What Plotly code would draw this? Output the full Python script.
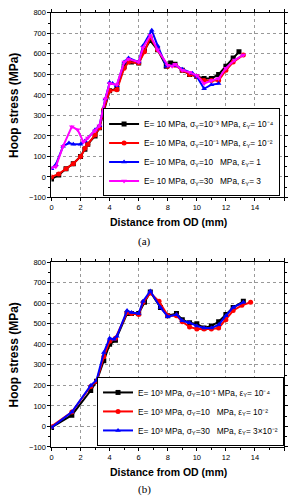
import plotly.graph_objects as go

# ---- data (a) ----
a_black_x = [0, 0.5, 1, 1.5, 2, 2.3, 2.5, 3, 3.3, 3.6, 4, 4.5, 5, 5.3, 5.5, 6, 6.4, 6.8, 7.3, 7.9, 8.2, 8.5, 9, 9.5, 10, 10.5, 11, 11.5, 12, 12.5, 12.9]
a_black_y = [-10, 10, 40, 65, 100, 135, 160, 200, 240, 320, 420, 430, 540, 565, 560, 555, 620, 665, 620, 540, 555, 550, 520, 500, 490, 480, 480, 500, 540, 580, 610]
a_red_x = [0, 0.5, 1, 1.5, 2, 2.3, 2.5, 3, 3.3, 3.6, 4, 4.5, 5, 5.3, 6, 6.4, 6.8, 7.3, 8, 8.5, 9, 9.5, 10, 10.5, 11, 11.5, 12, 12.5, 13.2]
a_red_y = [0, 15, 40, 65, 100, 140, 160, 205, 240, 330, 420, 425, 530, 560, 555, 610, 680, 620, 540, 545, 520, 500, 490, 470, 470, 470, 520, 560, 595]
a_blue_x = [0, 0.3, 0.8, 1.2, 1.5, 2, 2.3, 3, 3.3, 3.7, 4, 4.2, 4.5, 5, 5.3, 6, 6.3, 6.9, 7.3, 7.9, 8.5, 9, 9.7, 10, 10.5, 11, 11.5]
a_blue_y = [40, 60, 150, 165, 160, 160, 175, 230, 250, 380, 460, 455, 445, 560, 580, 560, 640, 715, 640, 540, 545, 525, 505, 490, 430, 450, 455]
a_mag_x = [0, 0.3, 0.8, 1.4, 1.8, 2.2, 2.5, 3, 3.3, 3.7, 4, 4.5, 5, 5.3, 6, 6.3, 6.8, 7.3, 8, 8.3, 8.5, 9, 9.5, 10, 10.5, 11, 11.5, 12, 12.6, 13.2]
a_mag_y = [45, 50, 150, 245, 230, 170, 190, 225, 250, 380, 455, 450, 560, 575, 560, 630, 690, 620, 545, 540, 550, 520, 510, 495, 455, 470, 480, 530, 570, 595]

# ---- data (b) ----
b_black_x = [0, 1.4, 2.7, 3.1, 3.6, 4, 4.4, 5.2, 5.5, 6, 6.4, 6.8, 7.5, 8, 8.6, 9, 9.5, 10, 10.5, 11, 11.5, 12, 12.5, 13.2]
b_black_y = [-5, 55, 175, 220, 320, 400, 420, 550, 550, 550, 605, 655, 580, 540, 550, 520, 505, 500, 480, 490, 510, 545, 580, 610]
b_red_x = [0, 1.4, 2.7, 3.1, 3.6, 4, 4.4, 5.2, 5.5, 6, 6.3, 6.8, 7.4, 8, 8.6, 9, 9.5, 10, 10.5, 11, 11.5, 12, 12.5, 13.1, 13.7]
b_red_y = [0, 70, 195, 220, 340, 415, 430, 555, 550, 545, 605, 650, 610, 540, 540, 510, 485, 475, 475, 475, 480, 520, 565, 590, 605]
b_blue_x = [0, 1.4, 2.7, 3.1, 3.6, 4, 4.3, 4.5, 5.2, 5.5, 6, 6.3, 6.8, 7.5, 8, 8.6, 9, 9.5, 10, 10.5, 11, 11.5, 12, 12.5, 13.2]
b_blue_y = [-5, 70, 200, 225, 360, 430, 425, 440, 565, 555, 550, 610, 660, 580, 535, 545, 515, 505, 490, 480, 480, 495, 540, 580, 605]

a_names = [
    "E= 10 MPa, σ<sub>Y</sub>=10⁻³ MPa, ε<sub>Y</sub>= 10⁻⁴",
    "E= 10 MPa, σ<sub>Y</sub>=10⁻¹ MPa, ε<sub>Y</sub>= 10⁻²",
    "E= 10 MPa, σ<sub>Y</sub>=10   MPa, ε<sub>Y</sub>= 1",
    "E= 10 MPa, σ<sub>Y</sub>=30   MPa, ε<sub>Y</sub>= 3",
]
b_names = [
    "E= 10³ MPa, σ<sub>Y</sub>=10⁻¹ MPa, ε<sub>Y</sub>= 10⁻⁴",
    "E= 10³ MPa, σ<sub>Y</sub>=10   MPa, ε<sub>Y</sub>= 10⁻²",
    "E= 10³ MPa, σ<sub>Y</sub>=30   MPa, ε<sub>Y</sub>= 3×10⁻²",
]
x_ticks = [0, 2, 4, 6, 8, 10, 12, 14, 16]
y_ticks = [-100, 0, 100, 200, 300, 400, 500, 600, 700, 800]

FONT = "Liberation Sans, Arial, sans-serif"
fig = go.Figure()

def add(x, y, name, color, sym, xa, ya, leg):
    fig.add_trace(go.Scatter(
        x=x, y=y, name=name, mode="lines+markers",
        line=dict(color=color, width=2),
        marker=dict(symbol=sym, size=5, color=color),
        xaxis=xa, yaxis=ya, legend=leg))

add(a_black_x, a_black_y, a_names[0], "#000000", "square", "x", "y", "legend")
add(a_red_x, a_red_y, a_names[1], "#ff0000", "circle", "x", "y", "legend")
add(a_blue_x, a_blue_y, a_names[2], "#0000ff", "triangle-up", "x", "y", "legend")
add(a_mag_x, a_mag_y, a_names[3], "#ff00ff", "triangle-down", "x", "y", "legend")
add(b_black_x, b_black_y, b_names[0], "#000000", "square", "x2", "y2", "legend2")
add(b_red_x, b_red_y, b_names[1], "#ff0000", "circle", "x2", "y2", "legend2")
add(b_blue_x, b_blue_y, b_names[2], "#0000ff", "triangle-up", "x2", "y2", "legend2")

xd = [50/288, 285/288]
top_dom = [1 - 197/503, 1 - 9/503]
bot_dom = [1 - 451/503, 1 - 263/503]

common = dict(showgrid=True, gridcolor="#999999", griddash="dot", gridwidth=0.8,
              showline=True, linecolor="black", linewidth=1, mirror="ticks",
              ticks="outside", ticklen=3, tickcolor="black", zeroline=False,
              tickfont=dict(size=7.5, family=FONT, color="black"))

def xaxis(anchor):
    return dict(domain=xd, anchor=anchor, range=[0, 16], tickvals=x_ticks,
                minor=dict(ticks="outside", ticklen=2, dtick=1, tickcolor="black"), **common)

def yaxis(anchor, dom):
    return dict(domain=dom, anchor=anchor, range=[-100, 800], tickvals=y_ticks,
                minor=dict(ticks="outside", ticklen=2, dtick=50, tickcolor="black"), **common)

legstyle = dict(bgcolor="white", bordercolor="black", borderwidth=1,
                font=dict(size=8.3, family=FONT, color="black"),
                xanchor="right", yanchor="bottom",
                tracegroupgap=0, itemwidth=30)

fig.update_layout(
    width=288, height=503, margin=dict(l=0, r=0, t=0, b=0),
    paper_bgcolor="white", plot_bgcolor="white", showlegend=True,
    xaxis=xaxis("y"), yaxis=yaxis("x", top_dom),
    xaxis2=xaxis("y2"), yaxis2=yaxis("x2", bot_dom),
    legend=dict(**legstyle, x=281/288, y=top_dom[0] + 1/503),
    legend2=dict(**legstyle, x=285/288, y=bot_dom[0] + 1/503),
)

ann = []
for ycen, ytitle, cap, ycap in [((9+197)/2, 222, "(a)", 242), ((263+451)/2, 477, "(b)", 494)]:
    ann.append(dict(text="<b>Hoop stress (MPa)</b>", textangle=-90, x=12/288, y=1-ycen/503,
                    xanchor="center", yanchor="middle",
                    xref="paper", yref="paper", showarrow=False,
                    font=dict(size=12, family=FONT, color="black")))
    ann.append(dict(text="<b>Distance from OD (mm)</b>", x=168/288, y=1-ytitle/503,
                    xanchor="center", yanchor="middle",
                    xref="paper", yref="paper", showarrow=False,
                    font=dict(size=10.5, family=FONT, color="black")))
    ann.append(dict(text=cap, x=144/288, y=1-ycap/503, xref="paper", yref="paper",
                    xanchor="center", yanchor="middle",
                    showarrow=False, font=dict(size=11, family="Liberation Serif, serif", color="black")))
fig.update_layout(annotations=ann)

fig.write_html("out.html")
